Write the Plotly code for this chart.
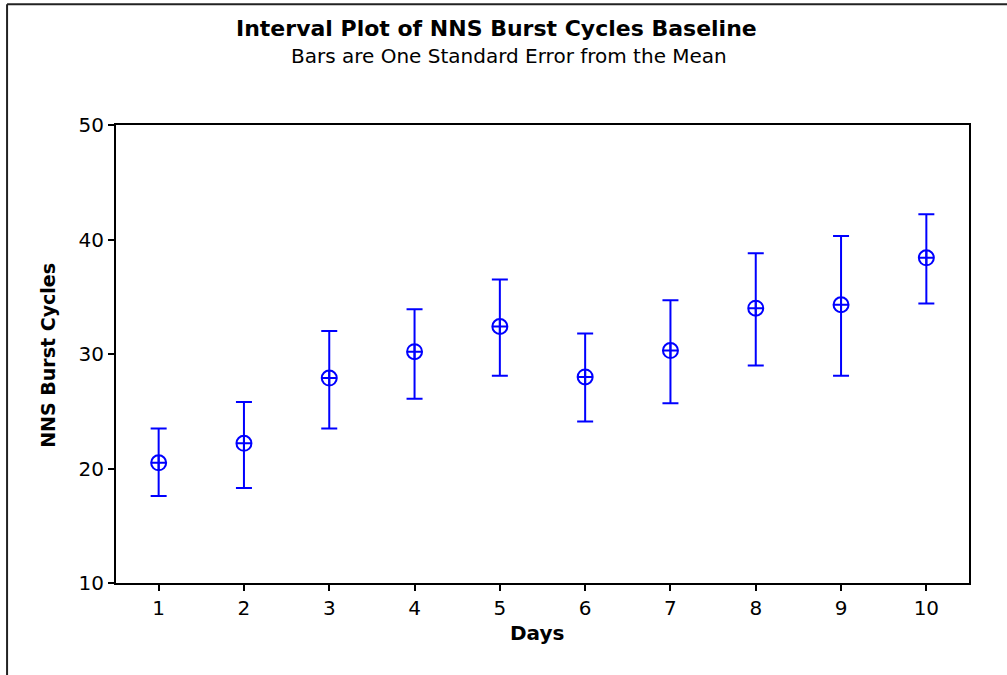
import plotly.graph_objects as go

# Interval plot data: mean and one-standard-error bounds per day
days = [1, 2, 3, 4, 5, 6, 7, 8, 9, 10]
means = [20.5, 22.2, 27.9, 30.2, 32.4, 28.0, 30.3, 34.0, 34.3, 38.4]
upper = [23.5, 25.8, 32.0, 33.9, 36.5, 31.8, 34.7, 38.8, 40.3, 42.2]
lower = [17.6, 18.3, 23.5, 26.1, 28.1, 24.1, 25.7, 29.0, 28.1, 34.4]
y_ticks = [10, 20, 30, 40, 50]

title_text = "Interval Plot of NNS Burst Cycles Baseline"
subtitle_text = "Bars are One Standard Error from the Mean"

err_plus = [u - m for u, m in zip(upper, means)]
err_minus = [m - l for m, l in zip(means, lower)]

BLUE = "#0000FF"
FONT = "DejaVu Sans"

fig = go.Figure()
fig.add_trace(go.Scatter(
    x=days, y=means, mode="markers",
    marker=dict(symbol="circle-cross-open", size=15, color=BLUE,
                line=dict(width=2, color=BLUE)),
    error_y=dict(type="data", symmetric=False, array=err_plus,
                 arrayminus=err_minus, color=BLUE, thickness=2, width=8),
    showlegend=False,
))

L, R, T, B = 116, 37.5, 125, 91.5
W, H = 1007, 675
pw, ph = W - L - R, H - T - B

def px(x):
    return (x - L) / pw

def py(y):
    return (H - B - y) / ph

fig.update_layout(
    width=W, height=H,
    margin=dict(l=L, r=R, t=T, b=B),
    paper_bgcolor="white", plot_bgcolor="white",
    font=dict(family=FONT, color="black", size=20),
    xaxis=dict(
        range=[0.5, 10.5], tickvals=days, ticks="outside", ticklen=6,
        tickwidth=1.5, tickcolor="black", showgrid=False, zeroline=False,
        showline=True, linecolor="black", linewidth=2, mirror=True,
        tickfont=dict(size=20),
    ),
    yaxis=dict(
        range=[10, 50], tickvals=y_ticks, ticks="outside", ticklen=6,
        tickwidth=1.5, tickcolor="black", showgrid=False, zeroline=False,
        showline=True, linecolor="black", linewidth=2, mirror=True,
        tickfont=dict(size=20),
    ),
    annotations=[
        dict(text="<b>" + title_text + "</b>", xref="paper", yref="paper",
             x=px(497), y=py(28), xanchor="center", yanchor="middle",
             showarrow=False, font=dict(size=22)),
        dict(text=subtitle_text, xref="paper", yref="paper",
             x=px(509), y=py(56), xanchor="center", yanchor="middle",
             showarrow=False, font=dict(size=20)),
        dict(text="<b>Days</b>", xref="paper", yref="paper",
             x=px(537), y=py(634), xanchor="center", yanchor="middle",
             showarrow=False, font=dict(size=20)),
        dict(text="<b>NNS Burst Cycles</b>", xref="paper", yref="paper",
             x=px(48), y=py(356), xanchor="center", yanchor="middle",
             showarrow=False, textangle=-90, font=dict(size=19)),
    ],
    shapes=[
        # outer frame: top and left edges
        dict(type="line", xref="paper", yref="paper",
             x0=px(7), x1=px(W + 5), y0=py(4), y1=py(4),
             line=dict(color="#222222", width=2)),
        dict(type="line", xref="paper", yref="paper",
             x0=px(7), x1=px(7), y0=py(4), y1=py(H + 5),
             line=dict(color="#222222", width=2)),
    ],
)

fig.write_html("out.html")
